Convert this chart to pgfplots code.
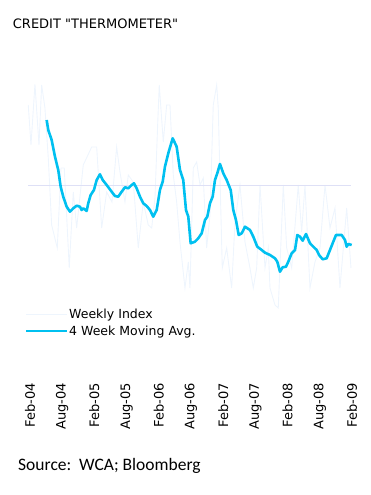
\documentclass[border=0pt]{standalone}
\usepackage{pgfplots}
\pgfplotsset{compat=1.18}
\usepackage{fontspec}
\setmainfont{DejaVu Sans}
\newfontfamily\dejavu{DejaVu Sans}
\newfontfamily\carlito{Carlito}
\definecolor{macyan}{RGB}{0,192,240}
\definecolor{weekly}{RGB}{238,245,253}
\definecolor{zeroline}{RGB}{222,224,246}
\begin{document}
\begin{tikzpicture}[x=1pt,y=1pt]
\useasboundingbox (0,0) rectangle (370,495);
\node[anchor=base west, inner sep=0pt, font=\dejavu\fontsize{13}{15}\selectfont] at (12.7,466.7) {CREDIT "THERMOMETER"};
\begin{axis}[
  scale only axis, width=327.4pt, height=306.7pt,
  at={(24.6pt,112.3pt)}, anchor=south west,
  xmin=-1, xmax=60, ymin=-196.7, ymax=110,
  axis line style={draw=none},
  major tick length=0pt,
  ytick=\empty,
  xtick={0,6,12,18,24,30,36,42,48,54,60},
  xticklabels={Feb-04,Aug-04,Feb-05,Aug-05,Feb-06,Aug-06,Feb-07,Aug-07,Feb-08,Aug-08,Feb-09},
  xticklabel style={rotate=90, anchor=east, inner sep=0pt, font=\fontsize{13}{15}\selectfont},
  clip=false,
  legend style={at={(0.001,0.2436)}, anchor=north west, draw=none, fill=none,
    font=\fontsize{12.5}{15}\selectfont, inner sep=0pt, row sep=5pt,
    nodes={inner sep=0.5pt}},
  legend cell align=left,
  legend image code/.code={\draw[#1] (0pt,0pt) -- (41pt,0pt);},
]
\addplot[weekly, line width=0.9pt, sharp plot] coordinates {
(-0.32,81) (0.19,41) (0.93,101.7) (1.68,41) (2.18,101) (2.79,78) (3.41,28) (4.04,-39) (5.09,-62) (5.78,18) (6.39,18) (7.32,-82) (8.07,-6) (8.70,-42) (9.93,21) (11.50,39) (12.43,39) (13.36,-42) (14.29,-6) (15.28,-16) (16.15,39) (16.77,14) (17.70,-16) (18.32,11) (19.25,4) (20.18,-62) (21.11,-16) (22.04,-39) (22.68,-42) (23.29,-12) (23.79,61) (24.09,101) (24.84,44) (25.47,81) (26.09,81) (26.70,11) (27.33,-16) (27.95,-56) (28.88,-102) (29.50,-76) (29.81,-102) (30.43,18) (31.06,24) (31.68,1) (32.29,8) (32.92,-62) (33.54,-29) (34.15,81) (34.79,101) (35.08,78) (35.83,-82) (36.65,-62) (37.58,-102) (38.20,-36) (39.13,1) (40.06,-56) (40.99,-82) (41.61,-102) (42.24,-82) (42.86,1) (43.79,-82) (44.40,-62) (44.72,-102) (45.65,-119) (46.26,-122) (47.20,1) (47.83,-62) (48.76,-82) (49.99,1) (50.62,-46) (51.24,1) (52.17,-102) (53.10,-76) (54.03,-62) (54.97,1) (55.90,-42) (56.83,-22) (57.76,-102) (59.01,-22) (59.81,-82)
};
\addlegendentry{Weekly Index}
\addplot[zeroline, line width=1pt, forget plot] coordinates {(-0.32,0) (59.76,0)};
\addplot[macyan, line width=2.6pt, line join=round] coordinates {
(3.11,66) (3.41,56) (4.04,46) (4.66,29.3) (5.27,16) (5.72,-0.7) (6.20,-10.7) (6.84,-20.7) (7.45,-25.7) (8.07,-22.3) (8.70,-19.7) (9.32,-20.7) (9.63,-24) (9.93,-22.3) (10.56,-25) (10.86,-17.3) (11.31,-9) (11.92,-4) (12.43,6) (13.04,11.7) (13.55,6) (14.29,1) (15.22,-5.7) (15.84,-10) (16.45,-10.7) (17.09,-5.7) (17.70,-1.3) (18.32,-2.3) (18.95,1) (19.38,2.7) (19.88,-2.3) (20.50,-10.7) (21.11,-17.3) (21.74,-20) (22.36,-24) (22.97,-30.7) (23.61,-24) (24.22,-4) (24.73,4.3) (25.15,19.3) (25.77,32.7) (26.59,47.7) (27.33,39.3) (27.95,16) (28.56,6) (29.07,-24) (29.50,-30.7) (29.94,-57.3) (30.74,-55.7) (31.36,-52.3) (31.99,-47.3) (32.61,-34) (33.04,-30.7) (33.54,-17.3) (34.04,-10.7) (34.47,6) (34.90,12.7) (35.40,22) (36.02,12.7) (36.65,6) (37.40,-4) (37.88,-24) (38.38,-34) (38.89,-49) (39.45,-47.3) (40.06,-40.7) (40.99,-44) (41.61,-50.7) (42.35,-60.7) (43.17,-64) (43.79,-66.7) (44.72,-69) (45.65,-72.3) (46.08,-75.7) (46.58,-85.7) (47.08,-81.3) (47.70,-80.7) (48.13,-75.7) (48.76,-67.3) (49.38,-64) (49.81,-49) (50.31,-50.7) (50.81,-54.7) (51.43,-48) (52.17,-57.3) (52.79,-60.7) (53.42,-64) (53.90,-69.3) (54.54,-73.3) (55.28,-72.3) (55.90,-64) (56.51,-55.7) (57.02,-49) (58.08,-49) (58.69,-54) (59.01,-60.7) (59.31,-58) (59.94,-59)
};
\addlegendentry{4 Week Moving Avg.}
\end{axis}
\node[anchor=base west, inner sep=0pt, font=\carlito\fontsize{17.5}{20}\selectfont] at (18,24.5) {Source:\ \ WCA; Bloomberg};
\end{tikzpicture}
\end{document}
